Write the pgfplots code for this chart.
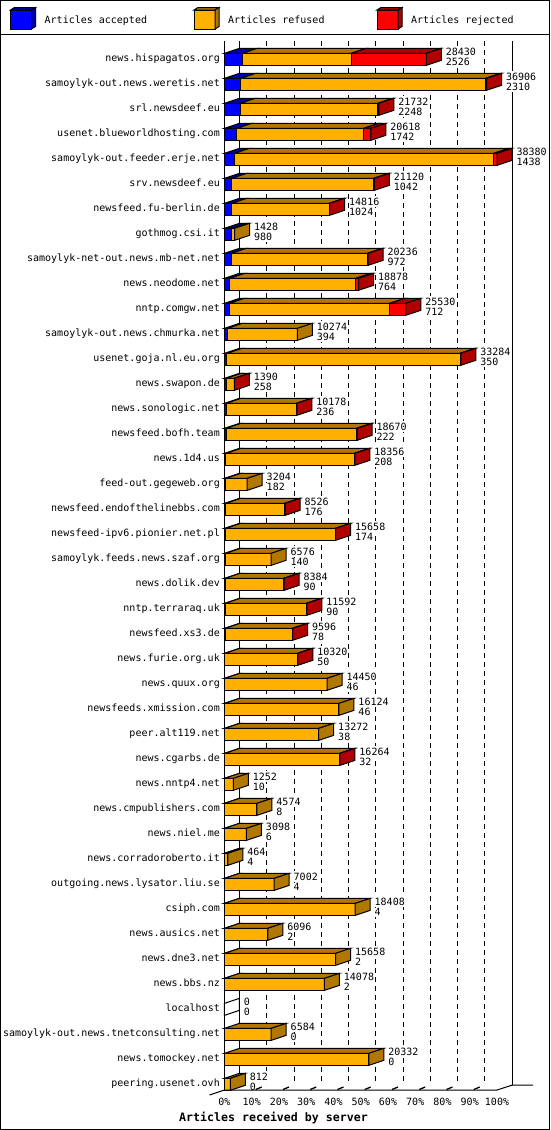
\documentclass[border=0pt]{standalone}
\usepackage{fontspec}
\setmainfont{DejaVu Sans Mono}
\usepackage{pgfplots}
\pgfplotsset{compat=1.18}
\usepackage{pgfplotstable}

\definecolor{blueF}{RGB}{0,0,255}
\definecolor{blueD}{RGB}{0,0,176}
\definecolor{orgF}{RGB}{255,176,0}
\definecolor{orgD}{RGB}{176,120,0}
\definecolor{redF}{RGB}{255,0,0}
\definecolor{redD}{RGB}{176,0,0}

\newcommand\lbl{\fontsize{10}{10.7}\selectfont}

\pgfdeclareplotmark{topface}{%
  \pgfpathmoveto{\pgfqpoint{-\Lseg pt}{6pt}}%
  \pgfpathlineto{\pgfqpoint{0pt}{6pt}}%
  \pgfpathlineto{\pgfqpoint{15pt}{11pt}}%
  \pgfpathlineto{\pgfqpoint{\dimexpr15pt-\Lseg pt\relax}{11pt}}%
  \pgfpathclose
  \pgfusepathqfillstroke}
\pgfdeclareplotmark{sideface}{%
  \pgfpathmoveto{\pgfqpoint{0pt}{-6pt}}%
  \pgfpathlineto{\pgfqpoint{0pt}{6pt}}%
  \pgfpathlineto{\pgfqpoint{15pt}{11pt}}%
  \pgfpathlineto{\pgfqpoint{15pt}{-1pt}}%
  \pgfpathclose
  \pgfusepathqfillstroke}

\pgfplotstableread{
y acc ref rej tot
0 2526 15344 10560 28430
1 2310 34476 120 36906
2 2248 19334 150 21732
3 1742 17876 1000 20618
4 1438 36492 450 38380
5 1042 19978 100 21120
6 1024 13712 80 14816
7 980 448 0 1428
8 972 19164 100 20236
9 764 17714 400 18878
10 712 22568 2250 25530
11 394 9880 0 10274
12 350 32834 100 33284
13 258 1092 40 1390
14 236 9902 40 10178
15 222 18388 60 18670
16 208 18088 60 18356
17 182 3022 0 3204
18 176 8310 40 8526
19 174 15444 40 15658
20 140 6436 0 6576
21 90 8264 30 8384
22 90 11472 30 11592
23 78 9488 30 9596
24 50 10240 30 10320
25 46 14404 0 14450
26 46 16078 0 16124
27 38 13234 0 13272
28 32 16202 30 16264
29 10 1242 0 1252
30 8 4566 0 4574
31 6 3092 0 3098
32 4 460 0 464
33 4 6998 0 7002
34 4 18404 0 18408
35 2 6094 0 6096
36 2 15656 0 15658
37 2 14076 0 14078
38 0 0 0 0
39 0 6584 0 6584
40 0 20332 0 20332
41 0 812 0 812
}\servers

\newcommand\legicon[3]{%
  \filldraw[fill=#2, draw=black, line width=1pt] ({#1pt},-10pt) rectangle ({#1pt+21pt},-29pt);
  \filldraw[fill=#3, draw=black, line width=1pt] ({#1pt},-10pt) -- ({#1pt+21pt},-10pt) -- ({#1pt+25pt},-7.5pt) -- ({#1pt+4pt},-7.5pt) -- cycle;
  \filldraw[fill=#3, draw=black, line width=1pt] ({#1pt+21pt},-10pt) -- ({#1pt+25pt},-7.5pt) -- ({#1pt+25pt},-26.5pt) -- ({#1pt+21pt},-29pt) -- cycle;
}

\begin{document}
\begin{tikzpicture}
\useasboundingbox (0pt,0pt) rectangle (550pt,-1130pt);
\fill[white] (0pt,0pt) rectangle (550pt,-1130pt);
% frame and legend
\draw[line width=1pt] (0.5pt,-0.5pt) rectangle (549.5pt,-1129.5pt);
\draw[line width=1pt] (0pt,-34.5pt) -- (550pt,-34.5pt);
\legicon{10.5}{blueF}{blueD}
\legicon{194}{orgF}{orgD}
\legicon{377}{redF}{redD}
\node[anchor=base west, inner sep=0pt, font=\lbl] at (44.5pt,-23.5pt) {Articles accepted};
\node[anchor=base west, inner sep=0pt, font=\lbl] at (228pt,-23.5pt) {Articles refused};
\node[anchor=base west, inner sep=0pt, font=\lbl] at (411pt,-23.5pt) {Articles rejected};
% back plane
\foreach \k in {1,...,9}
  \draw[line width=1pt, dash pattern=on 5pt off 4pt] ({239.5pt+27.25pt*\k},-41pt) -- ({239.5pt+27.25pt*\k},-1085pt);
\draw[line width=1pt] (239.5pt,-41pt) -- (239.5pt,-1085pt);
\draw[line width=1pt] (512.5pt,-41pt) -- (512.5pt,-1085pt);
\draw[line width=1pt] (224.5pt,-41pt) -- (224.5pt,-1090pt);

\begin{axis}[
  at={(224.5pt,-1090pt)}, anchor=south west,
  scale only axis, width=272.5pt, height=1048pt,
  xmin=0, xmax=100, ymin=-0.692, ymax=41.228, y dir=reverse,
  clip=false, axis line style={draw=none}, tick style={draw=none},
  xtick={0,10,...,100},
  xticklabels={0\%,10\%,20\%,30\%,40\%,50\%,60\%,70\%,80\%,90\%,100\%},
  xticklabel style={anchor=north, inner sep=0pt, yshift=-8pt, font=\lbl},
  ytick={0,...,41},
  yticklabels={news.hispagatos.org,samoylyk-out.news.weretis.net,srl.newsdeef.eu,usenet.blueworldhosting.com,samoylyk-out.feeder.erje.net,srv.newsdeef.eu,newsfeed.fu-berlin.de,gothmog.csi.it,samoylyk-net-out.news.mb-net.net,news.neodome.net,nntp.comgw.net,samoylyk-out.news.chmurka.net,usenet.goja.nl.eu.org,news.swapon.de,news.sonologic.net,newsfeed.bofh.team,news.1d4.us,feed-out.gegeweb.org,newsfeed.endofthelinebbs.com,newsfeed-ipv6.pionier.net.pl,samoylyk.feeds.news.szaf.org,news.dolik.dev,nntp.terraraq.uk,newsfeed.xs3.de,news.furie.org.uk,news.quux.org,newsfeeds.xmission.com,peer.alt119.net,news.cgarbs.de,news.nntp4.net,news.cmpublishers.com,news.niel.me,news.corradoroberto.it,outgoing.news.lysator.liu.se,csiph.com,news.ausics.net,news.dne3.net,news.bbs.nz,localhost,samoylyk-out.news.tnetconsulting.net,news.tomockey.net,peering.usenet.ovh},
  yticklabel style={anchor=east, inner sep=0pt, xshift=-4.5pt, text height=7pt, text depth=2pt, font=\lbl},
]
% front faces
\addplot[xbar, bar width=12pt, bar shift=0pt, draw=black, fill=redF, line width=1pt]
  table[x expr=\thisrow{tot}/383.8, y=y] {\servers};
\addplot[xbar, bar width=12pt, bar shift=0pt, draw=black, fill=orgF, line width=1pt]
  table[x expr=(\thisrow{acc}+\thisrow{ref})/383.8, y=y] {\servers};
\addplot[xbar, bar width=12pt, bar shift=0pt, draw=black, fill=blueF, line width=1pt]
  table[x expr=\thisrow{acc}/383.8, y=y] {\servers};
% top faces
\addplot[scatter, only marks, mark=topface, point meta=y, line width=1pt,
  scatter/use mapped color={draw=black, fill=blueD},
  visualization depends on={\thisrow{acc}*0.0071 \as \Lseg},
  restrict expr to domain={\thisrow{acc}}{0.5:100000}]
  table[x expr=\thisrow{acc}/383.8, y=y] {\servers};
\addplot[scatter, only marks, mark=topface, point meta=y, line width=1pt,
  scatter/use mapped color={draw=black, fill=orgD},
  visualization depends on={\thisrow{ref}*0.0071 \as \Lseg},
  restrict expr to domain={\thisrow{ref}}{0.5:100000}]
  table[x expr=(\thisrow{acc}+\thisrow{ref})/383.8, y=y] {\servers};
\addplot[scatter, only marks, mark=topface, point meta=y, line width=1pt,
  scatter/use mapped color={draw=black, fill=redD},
  visualization depends on={\thisrow{rej}*0.0071 \as \Lseg},
  restrict expr to domain={\thisrow{rej}}{0.5:100000}]
  table[x expr=\thisrow{tot}/383.8, y=y] {\servers};
% side faces
\addplot[scatter, only marks, mark=sideface, point meta=y, line width=1pt,
  scatter/use mapped color={draw=black, fill=redD},
  restrict expr to domain={\thisrow{rej}}{0.5:100000}]
  table[x expr=\thisrow{tot}/383.8, y=y] {\servers};
\addplot[scatter, only marks, mark=sideface, point meta=y, line width=1pt,
  scatter/use mapped color={draw=black, fill=orgD},
  restrict expr to domain={(\thisrow{rej}<0.5)*(\thisrow{ref}>0.5)}{0.5:1.5}]
  table[x expr=\thisrow{tot}/383.8, y=y] {\servers};
\addplot[scatter, only marks, mark=sideface, point meta=y, line width=1pt,
  scatter/use mapped color={draw=black, fill=white},
  restrict expr to domain={\thisrow{tot}}{-1:0.5}]
  table[x expr=\thisrow{tot}/383.8, y=y] {\servers};
% value labels
\addplot[draw=none, mark=none, point meta=explicit symbolic,
  nodes near coords,
  every node near coord/.style={anchor=base west, inner xsep=0.5pt, inner ysep=1.6pt, fill=white, xshift=18.8pt, yshift=4.3pt, font=\lbl, text=black}]
  table[x expr=\thisrow{tot}/383.8, y=y, meta=tot] {\servers};
\addplot[draw=none, mark=none, point meta=explicit symbolic,
  nodes near coords,
  every node near coord/.style={anchor=base west, inner xsep=0.5pt, inner ysep=0.8pt, fill=white, xshift=18.8pt, yshift=-6.4pt, font=\lbl, text=black}]
  table[x expr=\thisrow{tot}/383.8, y=y, meta=acc] {\servers};
\end{axis}
% floor
\draw[line width=1pt] (209.5pt,-1095pt) -- (224.5pt,-1090pt) -- (497pt,-1090pt) -- (512.5pt,-1085pt) -- (533pt,-1085pt);
\foreach \k in {1,...,9}
  \draw[line width=1.3pt] ({224.5pt+27.25pt*\k+4pt},-1089.5pt) -- ({224.5pt+27.25pt*\k+10pt},-1087pt);
\node[anchor=base, inner sep=0pt, font=\fontsize{11.6}{13}\selectfont\bfseries] at (273.5pt,-1121pt) {Articles received by server};
\end{tikzpicture}
\end{document}
